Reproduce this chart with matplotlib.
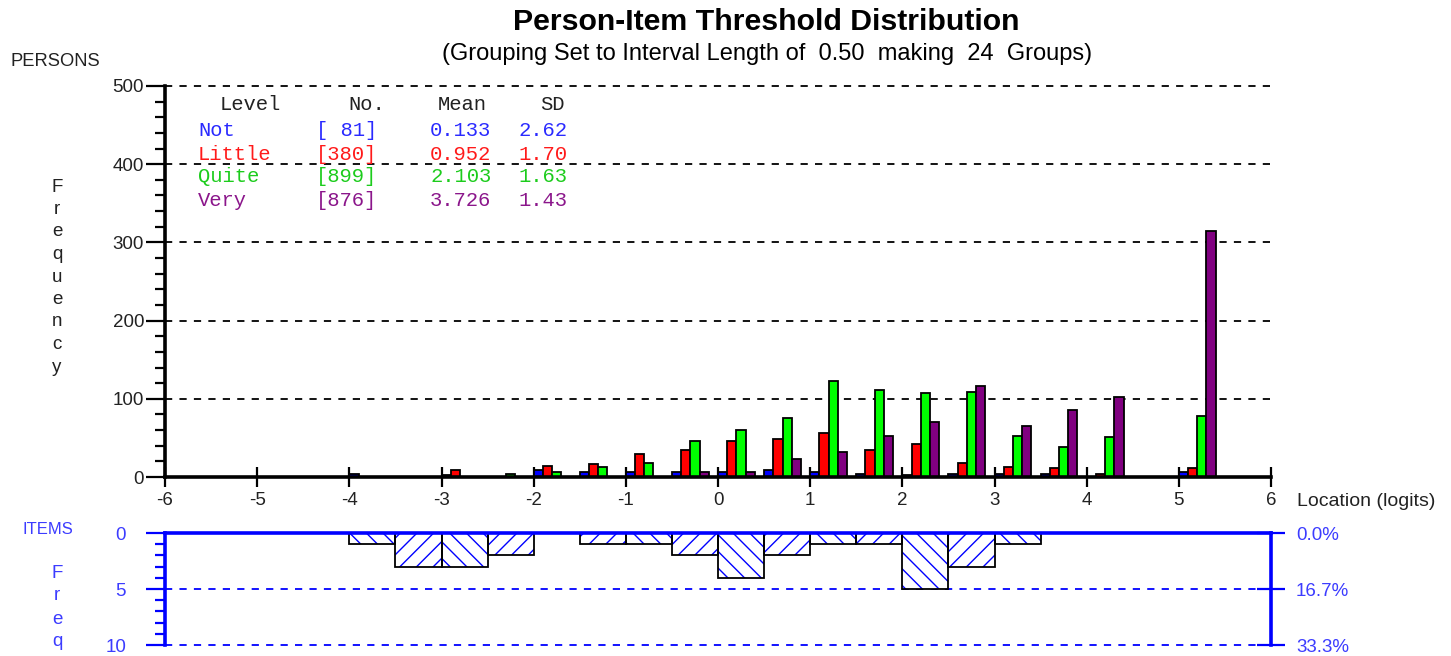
import matplotlib.pyplot as plt
from matplotlib.ticker import MultipleLocator
import numpy as np

# interval groups (left edge, logits), 0.50 wide, 24 groups
group_left = [-6.0, -5.5, -5.0, -4.5, -4.0, -3.5, -3.0, -2.5, -2.0, -1.5, -1.0, -0.5,
              0.0, 0.5, 1.0, 1.5, 2.0, 2.5, 3.0, 3.5, 4.0, 4.5, 5.0, 5.5]

# person threshold frequencies per group
not_counts = [0, 0, 0, 0, 4, 0, 3, 0, 9, 7, 6, 7, 6, 9, 6, 4, 2, 4, 4, 4, 0, 0, 6, 0]
little_counts = [0, 0, 0, 0, 0, 0, 9, 0, 14, 16, 30, 35, 46, 49, 56, 35, 42, 18, 13, 11, 4, 0, 12, 0]
quite_counts = [0, 0, 0, 0, 0, 0, 0, 4, 6, 13, 18, 46, 60, 76, 123, 111, 107, 109, 53, 39, 51, 0, 78, 0]
very_counts = [0, 0, 0, 0, 0, 0, 0, 0, 0, 0, 0, 6, 6, 23, 32, 53, 70, 116, 65, 86, 102, 0, 315, 0]

# item threshold frequencies per group
item_counts = [0, 0, 0, 0, 1, 3, 3, 2, 0, 1, 1, 2, 4, 2, 1, 1, 5, 3, 1, 0, 0, 0, 0, 0]

levels = ['Not', 'Little', 'Quite', 'Very']
level_n = [81, 380, 899, 876]
level_mean = ['0.133', '0.952', '2.103', '3.726']
level_sd = ['2.62', '1.70', '1.63', '1.43']

bar_colors = ['#0000ff', '#ff0000', '#00ff00', '#800080']
text_colors = ['#2a2aff', '#ff1a1a', '#1ccc1c', '#8b168b']
item_blue = '#0000ff'
label_blue = '#3c3cff'

plt.rcParams['font.family'] = ['Liberation Sans', 'DejaVu Sans']
plt.rcParams['axes.unicode_minus'] = False

W, H = 1451, 656
fig = plt.figure(figsize=(W / 100, H / 100), dpi=100)


def fx(px):
    return px / W


def fy(py):
    return 1 - py / H


# ---- persons panel ----
ax = fig.add_axes([fx(165), fy(477), fx(1271) - fx(165), fy(86) - fy(477)])
ax.set_xlim(-6, 6)
ax.set_ylim(0, 500)

series = [not_counts, little_counts, quite_counts, very_counts]
for k, counts in enumerate(series):
    x = np.array(group_left) + k * 0.1
    c = np.array(counts)
    m = c > 0
    ax.bar(x[m], c[m], width=0.1, align='edge', color=bar_colors[k],
           edgecolor='black', linewidth=1.3, zorder=3)

for s in ['top', 'right']:
    ax.spines[s].set_visible(False)
for s in ['left', 'bottom']:
    ax.spines[s].set_linewidth(2.6)
    ax.spines[s].set_zorder(4)

ax.set_yticks(range(0, 501, 100))
ax.yaxis.set_minor_locator(MultipleLocator(20))
ax.tick_params(axis='y', which='major', direction='out', length=14, width=1.6,
               labelsize=13.5, pad=1, labelcolor='#222222')
ax.tick_params(axis='y', which='minor', direction='out', length=7, width=1.6)
ax.set_xticks(range(-6, 7))
ax.tick_params(axis='x', which='major', direction='inout', length=15, width=1.6,
               labelsize=13.5, pad=3, labelcolor='#222222')
ax.yaxis.grid(True, which='major', color='black', linestyle=(0, (4, 4)), linewidth=1.3)
ax.set_axisbelow(True)
for gl in ax.get_ygridlines():
    gl.set_clip_on(False)

# ---- items panel ----
ax2 = fig.add_axes([fx(165), fy(645), fx(1271) - fx(165), fy(533) - fy(645)])
ax2.set_xlim(-6, 6)
ax2.set_ylim(10, 0)

hatch_bars = ax2.bar(group_left, item_counts, width=0.5, align='edge', color='white',
                     edgecolor=item_blue, linewidth=0, zorder=2)
for i, p in enumerate(hatch_bars):
    p.set_hatch('\\\\' if i % 2 == 0 else '//')
ax2.bar(group_left, item_counts, width=0.5, align='edge', fill=False,
        edgecolor='black', linewidth=1.3, zorder=3)

ax2.spines['bottom'].set_visible(False)
for s in ['left', 'right', 'top']:
    ax2.spines[s].set_color(item_blue)
    ax2.spines[s].set_linewidth(2.6)
    ax2.spines[s].set_zorder(4)

ax2.set_xticks([])
ax2.set_yticks([0, 5, 10])
ax2.yaxis.set_minor_locator(MultipleLocator(1))
ax2.tick_params(axis='y', which='major', direction='out', length=14, width=1.6,
                color=item_blue, labelcolor=label_blue, labelsize=13.5, pad=14)
ax2.tick_params(axis='y', which='minor', direction='out', length=7, width=1.6,
                color=item_blue)
ax2.yaxis.grid(True, which='major', color=item_blue, linestyle=(0, (4, 4)), linewidth=1.3)
ax2.set_axisbelow(True)
for gl in ax2.get_ygridlines():
    gl.set_clip_on(False)

twin = ax2.twinx()
twin.set_ylim(10, 0)
twin.set_yticks([0, 5, 10])
twin.set_yticklabels(['0.0%', '16.7%', '33.3%'])
for s in twin.spines.values():
    s.set_visible(False)
twin.tick_params(axis='y', direction='inout', length=20, width=1.6,
                 color=item_blue, labelcolor=label_blue, labelsize=13.5, pad=8)

# ---- texts ----
fig.text(fx(766), fy(22), 'Person-Item Threshold Distribution', ha='center', va='center',
         fontsize=21.8, fontweight='bold')
fig.text(fx(767), fy(54), '(Grouping Set to Interval Length of  0.50  making  24  Groups)',
         ha='center', va='center', fontsize=17)
fig.text(fx(10), fy(62), 'PERSONS', ha='left', va='center', fontsize=13.2, color='#222222')
for i, ch in enumerate('Frequency'):
    fig.text(fx(57), fy(187 + i * 22.5), ch, ha='center', va='center', fontsize=13.5,
             color='#222222')
fig.text(fx(1297), fy(502), 'Location (logits)', ha='left', va='center', fontsize=14,
         color='#222222')
fig.text(fx(22), fy(529), 'ITEMS', ha='left', va='center', fontsize=12, color=label_blue)
for i, ch in enumerate('Freq'):
    fig.text(fx(57), fy(573 + i * 23), ch, ha='center', va='center', fontsize=13.5,
             color=label_blue)

# summary table
mono = 'Liberation Mono'
for txt, px in zip(['Level', 'No.', 'Mean', 'SD'], [220, 348, 438, 540]):
    fig.text(fx(px), fy(104), txt, ha='left', va='center', fontsize=14.8,
             family=mono, color='#222222')
for i, lev in enumerate(levels):
    y = fy(131 + i * 23)
    c = text_colors[i]
    fig.text(fx(198), y, lev, ha='left', va='center', fontsize=14.8, family=mono, color=c)
    fig.text(fx(316), y, '[%3d]' % level_n[i], ha='left', va='center', fontsize=14.8,
             family=mono, color=c)
    fig.text(fx(430), y, level_mean[i], ha='left', va='center', fontsize=14.8,
             family=mono, color=c)
    fig.text(fx(518), y, level_sd[i], ha='left', va='center', fontsize=14.8,
             family=mono, color=c)

fig.savefig('out.png', dpi=100)
